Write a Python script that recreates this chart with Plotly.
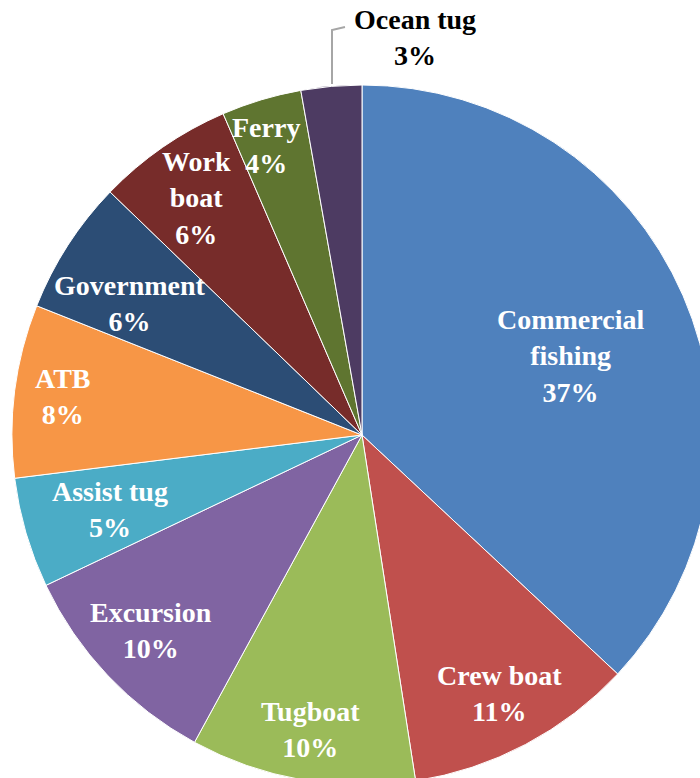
import math
import plotly.graph_objects as go

# vessel categories, clockwise from 12 o'clock
categories = ["Commercial fishing", "Crew boat", "Tugboat", "Excursion", "Assist tug",
              "ATB", "Government", "Work boat", "Ferry", "Ocean tug"]
display_names = ["Commercial<br>fishing", "Crew boat", "Tugboat", "Excursion", "Assist tug",
                 "ATB", "Government", "Work<br>boat", "Ferry", "Ocean tug"]
shares = [37.0, 10.6, 10.4, 10.0, 5.1, 8.0, 6.2, 6.3, 3.7, 2.8]

colors = ["#4F81BD", "#C0504D", "#9BBB59", "#8064A2", "#4BACC6",
          "#F79646", "#2C4D75", "#772C2A", "#5F7530", "#4D3B62"]

# figure geometry (px) - pie is larger than the window and gets cropped
W, H = 724, 800
cx, cy, R = 362, 435, 350

fig = go.Figure(go.Pie(
    labels=categories,
    values=shares,
    sort=False,
    direction="clockwise",
    rotation=0,
    marker={"colors": colors, "line": {"color": "white", "width": 1}},
    textinfo="none",
    hoverinfo="label+percent",
    domain={"x": [0, 1], "y": [(H - cy - R) / H, (H - cy + R) / H]},
    showlegend=False,
))

# labels placed along each slice's mid angle (radius fraction + small pixel nudges)
label_font = {"family": "Liberation Serif", "size": 28, "color": "white"}
radius_frac = [0.64, 0.84, 0.85, 0.83, 0.75, 0.86, 0.76, 0.83, 0.87]
nudge = [(3, 10), (0, -1), (0, 1), (0, -4), (0, 1), (0, 0), (-8, 13), (0, 2), (-8, 2)]
total = sum(shares)
cum = 0
annotations = []
for i, v in enumerate(shares):
    mid = 2 * math.pi * (cum + v / 2) / total
    cum += v
    pct = round(100 * v / total)
    text = f"<b>{display_names[i]}<br>{pct}%</b>"
    if i < len(radius_frac):
        px = cx + radius_frac[i] * R * math.sin(mid) + nudge[i][0]
        py = cy - radius_frac[i] * R * math.cos(mid) + nudge[i][1]
        annotations.append(dict(x=px / W, y=1 - py / H, xref="paper", yref="paper",
                                text=text, showarrow=False, font=label_font,
                                xanchor="center", yanchor="middle"))
    else:
        # outside label with leader line
        annotations.append(dict(x=415 / W, y=1 - 38 / H, xref="paper", yref="paper",
                                text=text, showarrow=False,
                                font=dict(label_font, color="black"),
                                xanchor="center", yanchor="middle"))

fig.update_layout(
    width=W,
    height=H,
    margin={"l": 0, "r": 0, "t": 0, "b": 0},
    paper_bgcolor="white",
    annotations=annotations,
    shapes=[dict(type="path", xref="paper", yref="paper",
                 path=f"M {332 / W} {1 - 84 / H} L {332 / W} {1 - 30 / H} L {345 / W} {1 - 27 / H}",
                 line={"color": "#A6A6A6", "width": 2})],
)

# no page margin / scrollbars so the crop matches the window
fig.write_html("out.html",
               config={"displayModeBar": False},
               post_script="document.body.style.margin='0';document.body.style.overflow='hidden';")
